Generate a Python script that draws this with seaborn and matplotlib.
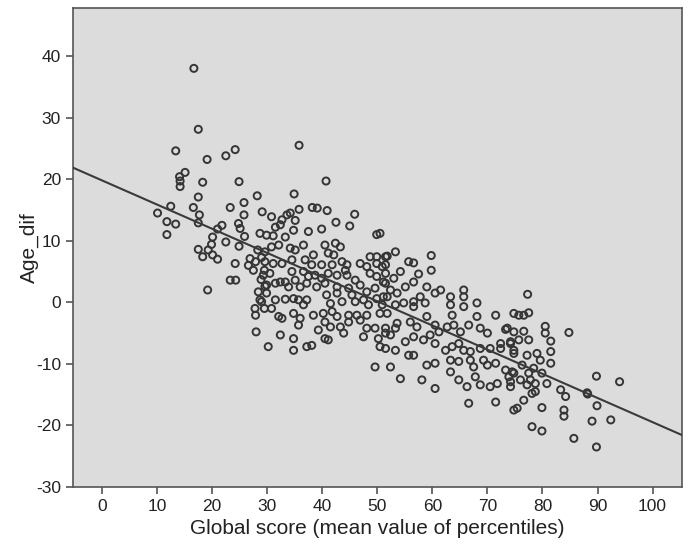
import matplotlib
matplotlib.use("Agg")
import matplotlib.pyplot as plt
import seaborn as sns
import pandas as pd

# ---- data (x = global score, y = Age_dif) ----
global_score = [
    16.7, 17.5, 13.4, 19.1, 22.5, 24.2, 15.1, 14.1, 14.2, 18.3, 24.9, 14.2,
    17.5, 28.2, 25.8, 23.3, 12.5, 16.6, 10.1, 17.7, 25.8, 29.1, 11.8, 13.4, 17.5, 21.8, 24.8, 25.1,
    11.8, 21.0, 28.7, 29.9, 20.1, 25.9, 22.5, 19.9, 24.9, 17.5, 19.3, 18.3, 20.1, 21.0, 28.3, 26.9,
    27.9, 29.0, 26.6, 24.2, 27.5, 29.5, 23.3, 24.3, 28.9, 29.6, 19.2, 28.4, 29.9, 28.7, 27.8, 29.5, 27.9,
    35.8, 40.7, 34.9, 35.8, 38.2, 39.1, 40.9, 30.8, 32.7, 33.6, 34.2, 35.1, 42.5, 45.9, 45.0, 39.9,
    37.5, 31.5, 32.4, 34.8, 49.9, 31.1, 33.3, 36.6, 40.5, 42.4, 43.3, 34.2, 35.1, 30.8, 32.1, 29.6,
    38.4, 41.1, 42.1, 48.7, 49.9, 51.8,
    29.6, 31.1, 32.7, 34.5, 36.9, 38.1, 39.9, 41.8, 43.6, 44.5, 46.9, 48.1, 49.9, 51.5,
    29.3, 30.5, 32.4, 33.3, 34.5, 35.1, 36.6, 37.5, 38.7, 39.9, 41.1, 42.7, 44.2, 44.5, 46.0, 48.7, 49.9, 51.5,
    29.9, 31.5, 33.9, 36.0, 37.2, 39.0, 40.5, 42.7, 44.8, 46.9, 48.1, 49.6, 51.5,
    29.0, 31.5, 33.3, 34.8, 35.7, 37.2, 36.6, 40.8, 42.7, 41.5, 43.6, 45.4, 46.0, 47.5, 48.4, 49.9, 51.8, 50.9,
    30.8, 32.1, 32.7, 34.8, 36.0, 38.4, 40.2, 41.8, 40.5, 42.7, 44.8, 46.3, 48.1, 46.9, 50.5,
    35.7, 39.3, 41.5, 43.3, 44.8, 48.1, 49.6, 51.5, 32.4, 40.5, 41.1, 43.9, 47.5, 50.2,
    34.8, 34.8, 37.2, 38.1, 50.5, 49.6, 28.0, 30.2,
    50.5, 53.3, 51.5, 59.8, 59.8, 55.7, 56.6, 50.9, 54.2, 57.5, 53.0, 56.6, 51.1, 55.1, 59.0, 61.5,
    60.5, 65.7, 65.7, 63.3, 68.1, 57.8, 52.4, 53.6, 51.1, 56.6, 54.8, 63.3,
    53.3, 56.6, 58.7, 63.6, 65.7, 68.1, 71.5, 74.8,
    51.8, 53.6, 53.3, 56.0, 57.2, 59.0, 60.5, 61.2, 62.7, 63.9, 65.1, 66.6, 68.7, 70.0, 73.6, 74.8,
    51.5, 52.4, 55.1, 56.6, 58.4, 59.6, 60.5, 62.4, 63.6, 64.8, 65.7, 66.9, 68.7, 70.5, 72.4, 74.2, 74.8,
    51.5, 53.3, 55.7, 56.6, 59.0, 60.5, 63.3, 64.8, 66.9, 67.5, 69.3, 70.0, 71.5, 73.3, 74.5,
    52.4, 54.2, 58.1, 60.5, 63.3, 64.8, 66.3, 67.8, 68.7, 70.5, 71.8, 73.9, 74.2, 66.6, 71.5,
    77.3, 75.7, 76.6, 77.5, 80.5, 80.5, 84.8, 73.3, 76.6, 75.7, 77.5, 81.5, 74.2, 72.4, 81.5, 77.2, 79.0, 74.8,
    79.6, 81.5, 74.8, 76.3, 77.5, 78.4, 79.9, 74.2, 76.0, 77.8, 77.2, 78.7, 80.8, 83.3, 84.2, 78.1,
    78.7, 76.6, 74.8, 75.4, 79.9, 83.9, 83.9, 89.8, 94.0, 88.1, 88.2, 89.9, 89.0, 92.4, 78.1, 79.9,
    85.7, 89.8,
]
age_dif = [
    38.0, 28.1, 24.6, 23.2, 23.8, 24.8, 21.1, 20.4, 19.7, 19.5, 19.6, 18.8,
    17.1, 17.3, 16.2, 15.4, 15.6, 15.4, 14.5, 14.2, 14.2, 14.7, 13.1, 12.7, 12.9, 12.5, 12.8, 12.0,
    11.0, 11.9, 11.2, 10.9, 10.6, 10.7, 9.8, 9.4, 9.1, 8.6, 8.5, 7.4, 7.7, 7.0, 8.5, 7.1,
    6.6, 7.3, 6.0, 6.3, 5.2, 5.2, 3.6, 3.6, 3.7, 2.6, 2.0, 1.7, 1.5, 0.4, -1.0, -1.0, -2.1,
    25.5, 19.7, 17.6, 15.1, 15.4, 15.3, 14.9, 13.9, 13.4, 14.2, 14.5, 13.3, 13.0, 14.3, 12.4, 11.9,
    11.5, 12.2, 12.6, 11.7, 11.0, 10.8, 10.6, 9.3, 9.3, 9.6, 9.0, 8.8, 8.5, 9.0, 9.3, 8.2,
    7.7, 8.0, 7.7, 7.4, 7.4, 7.5,
    6.6, 6.3, 6.3, 6.9, 6.9, 6.1, 6.1, 6.1, 6.6, 6.1, 6.3, 5.8, 6.3, 6.1,
    4.4, 4.7, 3.3, 3.3, 5.0, 3.6, 5.0, 4.2, 4.4, 3.9, 4.7, 4.4, 5.2, 4.4, 3.6, 4.7, 4.2, 4.7,
    2.8, 3.1, 2.5, 2.5, 3.1, 2.5, 3.1, 2.5, 2.3, 2.8, 1.7, 2.3, 3.1,
    0.1, 0.4, 0.5, 0.6, 0.4, 0.4, -0.4, 1.2, 1.5, -0.2, 0.1, 1.2, 0.1, 0.4, -0.4, 0.6, 0.9, -0.4,
    -1.0, -2.3, -2.6, -1.8, -2.6, -2.1, -1.8, -1.5, -3.2, -2.3, -2.1, -2.1, -2.1, -2.9, -1.8,
    -3.7, -4.5, -4.0, -4.0, -3.2, -4.2, -4.2, -4.2, -5.3, -5.9, -6.1, -5.0, -5.6, -5.9,
    -5.9, -7.8, -7.2, -7.0, -7.2, -10.5, -4.8, -7.2,
    11.2, 8.2, 7.4, 7.6, 5.2, 6.6, 6.4, 5.8, 5.0, 4.6, 3.9, 3.3, 3.3, 2.5, 2.5, 2.0,
    1.5, 2.0, 0.9, 0.9, -0.1, 0.9, 2.0, 1.5, 0.9, 0.1, -0.1, -0.4,
    -0.4, -0.7, -0.1, -2.1, -0.7, -2.3, -2.1, -1.8,
    -1.8, -3.4, -4.2, -3.2, -4.0, -2.3, -3.7, -4.8, -4.0, -3.7, -4.8, -3.7, -4.2, -5.0, -4.2, -4.8,
    -5.0, -5.3, -6.4, -5.6, -6.1, -5.3, -6.7, -7.8, -7.2, -6.7, -7.8, -8.0, -7.5, -7.5, -6.7, -6.4, -7.8,
    -7.5, -7.8, -8.6, -8.6, -10.2, -9.9, -9.4, -9.6, -9.4, -10.5, -9.4, -10.2, -9.9, -11.0, -11.3,
    -10.5, -12.4, -12.6, -14.0, -11.3, -12.6, -13.7, -12.1, -13.4, -13.7, -13.2, -12.1, -13.7, -16.4, -16.2,
    1.3, -2.1, -2.1, -1.7, -3.9, -5.0, -4.9, -4.4, -4.7, -6.1, -6.1, -6.3, -6.7, -7.5, -8.0, -8.6, -8.3, -8.3,
    -9.4, -9.9, -11.5, -10.2, -11.5, -10.7, -11.5, -12.9, -12.6, -12.6, -13.4, -13.2, -13.2, -14.2, -15.3, -14.8,
    -14.5, -15.9, -17.5, -17.2, -17.1, -17.5, -18.5, -12.0, -12.9, -14.7, -14.9, -16.8, -19.3, -19.1, -20.2, -20.9,
    -22.1, -23.5,
]
x_ticks = [0, 10, 20, 30, 40, 50, 60, 70, 80, 90, 100]
y_ticks = [-30, -20, -10, 0, 10, 20, 30, 40]
x_label = "Global score (mean value of percentiles)"
y_label = "Age_dif"

df = pd.DataFrame({"score": global_score, "age": age_dif})

sns.set_style("ticks")
plt.rcParams["font.family"] = ["Liberation Sans", "DejaVu Sans"]
plt.rcParams["axes.unicode_minus"] = False

fig = plt.figure(figsize=(6.88, 5.45), dpi=100)
ax = fig.add_axes([0.1057, 0.1064, 0.8853, 0.8789])
ax.set_facecolor("#dcdcdc")
ax.set_xlim(-5.3, 105.3)
ax.set_ylim(-30, 47.8)

sns.scatterplot(data=df, x="score", y="age", ax=ax, marker="o", s=26,
                facecolor="none", edgecolor="#353535", linewidth=1.4, zorder=3)
sns.regplot(data=df, x="score", y="age", ax=ax, scatter=False, ci=None,
            truncate=False, color="#3a3a3a", line_kws=dict(lw=1.5, zorder=4))
ax.set_xlim(-5.3, 105.3)
ax.set_ylim(-30, 47.8)

ax.set_xticks(x_ticks)
ax.set_yticks(y_ticks)
ax.tick_params(length=5, width=1.2, color="#555555", labelsize=12.5,
               labelcolor="#222222")
for sp in ax.spines.values():
    sp.set_visible(True)
    sp.set_color("#555555")
    sp.set_linewidth(1.2)
ax.set_xlabel(x_label, fontsize=15, color="#222222", labelpad=4)
ax.set_ylabel(y_label, fontsize=15, color="#222222", labelpad=-2)

fig.savefig("out.png", dpi=100)
